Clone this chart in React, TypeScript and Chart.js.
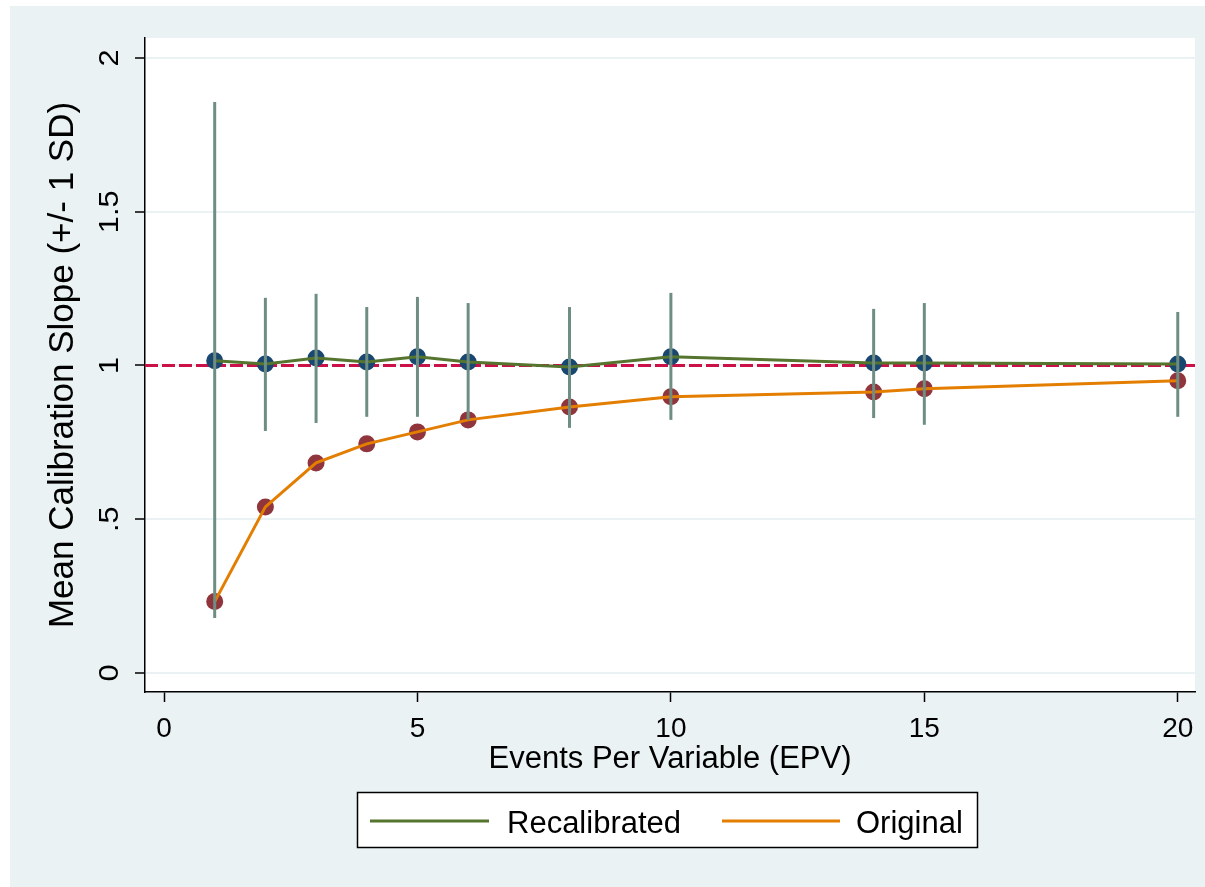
import React, { useEffect, useRef } from "react";
import { Chart, registerables } from "chart.js";

Chart.register(...registerables);

// ---- Data ----
const EPV = [1, 2, 3, 4, 5, 6, 8, 10, 14, 15, 20];
const RECAL_MEAN = [1.015, 1.005, 1.024, 1.011, 1.028, 1.011, 0.995, 1.028, 1.008, 1.008, 1.005];
const RECAL_UPPER = [1.857, 1.22, 1.233, 1.19, 1.223, 1.203, 1.19, 1.236, 1.184, 1.203, 1.174];
const RECAL_LOWER = [0.179, 0.787, 0.813, 0.833, 0.833, 0.823, 0.797, 0.823, 0.829, 0.807, 0.833];
const ORIG_MEAN = [0.232, 0.54, 0.683, 0.745, 0.784, 0.823, 0.865, 0.898, 0.914, 0.924, 0.95];
const REF_VALUE = 1;
const X_TICKS = [0, 5, 10, 15, 20];
const Y_TICKS = [0, 0.5, 1, 1.5, 2];
const Y_TICK_LABELS = ["0", ".5", "1", "1.5", "2"];
const SERIES_LABELS = ["Recalibrated", "Original"];

// ---- Styles ----
const FONT = "'Liberation Sans', Arial, Helvetica, sans-serif";
const BG = "#eaf2f3";
const NAVY = "#1a476f";
const MAROON = "#90353b";
const GREEN = "#55752f";
const ORANGE = "#e37e00";
const TEAL = "#6e8e84";
const CRANBERRY = "#cc1048";

const bgPlugin = {
  id: "bgPlugin",
  beforeDraw(chart: any) {
    const { ctx, width, height, chartArea } = chart;
    ctx.save();
    ctx.fillStyle = "#ffffff";
    ctx.fillRect(0, 0, width, height);
    ctx.fillStyle = BG;
    ctx.fillRect(10, 6, width - 10, height - 6);
    ctx.fillStyle = "#ffffff";
    ctx.fillRect(chartArea.left, chartArea.top, chartArea.right - chartArea.left, chartArea.bottom - chartArea.top);
    ctx.restore();
  },
};

const refLinePlugin = {
  id: "refLinePlugin",
  beforeDatasetsDraw(chart: any) {
    const { ctx, chartArea, scales } = chart;
    const y = scales.y.getPixelForValue(REF_VALUE);
    ctx.save();
    ctx.beginPath();
    ctx.rect(chartArea.left, chartArea.top, chartArea.right - chartArea.left, chartArea.bottom - chartArea.top);
    ctx.clip();
    ctx.strokeStyle = CRANBERRY;
    ctx.lineWidth = 3;
    ctx.setLineDash([13, 4]);
    ctx.beginPath();
    ctx.moveTo(chartArea.left, y);
    ctx.lineTo(chartArea.right, y);
    ctx.stroke();
    ctx.restore();
  },
};

const errorBarPlugin = {
  id: "errorBarPlugin",
  afterDatasetsDraw(chart: any) {
    const { ctx, scales } = chart;
    ctx.save();
    ctx.strokeStyle = TEAL;
    ctx.lineWidth = 3;
    ctx.lineCap = "butt";
    EPV.forEach((x, i) => {
      const px = scales.x.getPixelForValue(x);
      ctx.beginPath();
      ctx.moveTo(px, scales.y.getPixelForValue(RECAL_UPPER[i]));
      ctx.lineTo(px, scales.y.getPixelForValue(RECAL_LOWER[i]));
      ctx.stroke();
    });
    ctx.restore();
  },
};

const yTickLabelPlugin = {
  id: "yTickLabelPlugin",
  afterDraw(chart: any) {
    const { ctx, scales } = chart;
    ctx.save();
    ctx.fillStyle = "#000";
    ctx.font = `28px ${FONT}`;
    ctx.textAlign = "center";
    ctx.textBaseline = "alphabetic";
    Y_TICKS.forEach((v, i) => {
      const y = scales.y.getPixelForValue(v);
      ctx.save();
      ctx.translate(118, y);
      ctx.rotate(-Math.PI / 2);
      ctx.scale(1.1, 1);
      ctx.fillText(Y_TICK_LABELS[i], 0, 0);
      ctx.restore();
    });
    ctx.restore();
  },
};

const legendPlugin = {
  id: "legendPlugin",
  afterDraw(chart: any) {
    const { ctx } = chart;
    ctx.save();
    ctx.fillStyle = "#ffffff";
    ctx.fillRect(357, 792, 621, 56);
    ctx.strokeStyle = "#000";
    ctx.lineWidth = 1.5;
    ctx.strokeRect(357.5, 792.5, 620, 55);
    const items = [
      { color: GREEN, x0: 370, x1: 489, tx: 507, label: SERIES_LABELS[0] },
      { color: ORANGE, x0: 722, x1: 840, tx: 856, label: SERIES_LABELS[1] },
    ];
    items.forEach((it) => {
      ctx.strokeStyle = it.color;
      ctx.lineWidth = 3;
      ctx.beginPath();
      ctx.moveTo(it.x0, 821);
      ctx.lineTo(it.x1, 821);
      ctx.stroke();
      ctx.fillStyle = "#000";
      ctx.font = `31px ${FONT}`;
      ctx.textAlign = "left";
      ctx.textBaseline = "alphabetic";
      ctx.fillText(it.label, it.tx, 833);
    });
    ctx.restore();
  },
};

export default function App() {
  const ref = useRef<HTMLCanvasElement | null>(null);

  useEffect(() => {
    if (!ref.current) return;
    Chart.defaults.font.family = FONT;
    Chart.defaults.color = "#000";
    const recalPts = EPV.map((x, i) => ({ x, y: RECAL_MEAN[i] }));
    const origPts = EPV.map((x, i) => ({ x, y: ORIG_MEAN[i] }));
    const chart = new Chart(ref.current, {
      type: "line",
      data: {
        datasets: [
          {
            label: SERIES_LABELS[0],
            data: recalPts,
            borderColor: GREEN,
            borderWidth: 3,
            pointRadius: 0,
            fill: false,
            tension: 0,
            order: 1,
          },
          {
            label: SERIES_LABELS[1],
            data: origPts,
            borderColor: ORANGE,
            borderWidth: 3,
            pointRadius: 0,
            fill: false,
            tension: 0,
            order: 1,
          },
          {
            label: SERIES_LABELS[0] + " markers",
            data: recalPts,
            showLine: false,
            pointRadius: 8.5,
            pointBackgroundColor: NAVY,
            pointBorderWidth: 0,
            borderColor: NAVY,
            order: 2,
          },
          {
            label: SERIES_LABELS[1] + " markers",
            data: origPts,
            showLine: false,
            pointRadius: 8.5,
            pointBackgroundColor: MAROON,
            pointBorderWidth: 0,
            borderColor: MAROON,
            order: 2,
          },
        ],
      },
      options: {
        animation: false,
        responsive: false,
        devicePixelRatio: 1,
        layout: { padding: { left: 10, top: 38, right: 10, bottom: 109 } },
        plugins: { legend: { display: false }, tooltip: { enabled: false } },
        scales: {
          x: {
            type: "linear",
            min: -0.375,
            max: 20.34,
            afterBuildTicks: (scale: any) => {
              scale.ticks = X_TICKS.map((value) => ({ value }));
            },
            afterFit: (scale: any) => {
              scale.height = 86;
            },
            ticks: {
              autoSkip: false,
              maxRotation: 0,
              minRotation: 0,
              padding: 10,
              color: "#000",
              font: { size: 28, family: FONT },
              callback: (v: any) => String(v),
            },
            grid: {
              drawOnChartArea: false,
              drawTicks: true,
              tickLength: 10,
              tickWidth: 1.5,
              tickColor: "#000",
            },
            border: { display: true, color: "#000", width: 1.5 },
            title: {
              display: true,
              text: "Events Per Variable (EPV)",
              color: "#000",
              font: { size: 31, family: FONT },
              padding: { top: 0, bottom: 0 },
            },
          },
          y: {
            type: "linear",
            min: -0.062,
            max: 2.065,
            afterBuildTicks: (scale: any) => {
              scale.ticks = Y_TICKS.map((value) => ({ value }));
            },
            afterFit: (scale: any) => {
              scale.width = 135;
            },
            ticks: { display: false },
            grid: {
              color: BG,
              lineWidth: 2,
              drawTicks: true,
              tickLength: 10,
              tickWidth: 1.5,
              tickColor: "#000",
            },
            border: { display: true, color: "#000", width: 1.5 },
            title: {
              display: true,
              text: "Mean Calibration Slope (+/- 1 SD)",
              color: "#000",
              font: { size: 35, family: FONT },
              padding: { top: 32, bottom: 0 },
            },
          },
        },
      },
      plugins: [bgPlugin, refLinePlugin, errorBarPlugin, yTickLabelPlugin, legendPlugin],
    });
    return () => chart.destroy();
  }, []);

  return (
    <div style={{ position: "absolute", left: 0, top: 0, width: 1205, height: 887 }}>
      <canvas ref={ref} width={1205} height={887} style={{ width: 1205, height: 887, display: "block" }} />
    </div>
  );
}
